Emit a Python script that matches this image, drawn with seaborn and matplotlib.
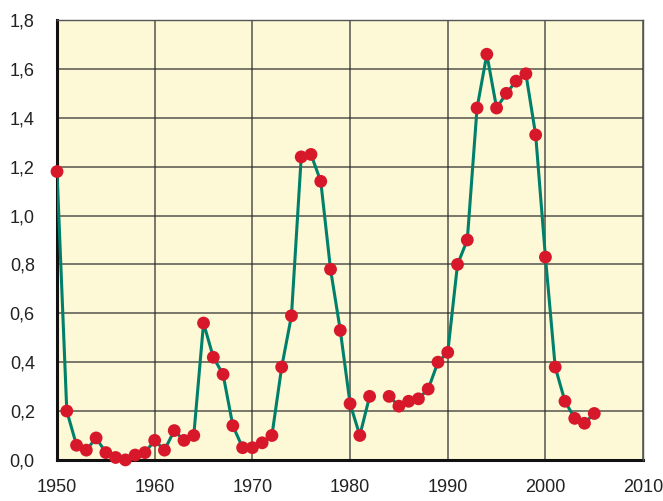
import numpy as np
import pandas as pd
import matplotlib
matplotlib.use("Agg")
import matplotlib.pyplot as plt
import seaborn as sns
from matplotlib.ticker import FuncFormatter

# Données (1983 manquant)
years = list(range(1950, 2006))
values = [1.18, 0.20, 0.06, 0.04, 0.09, 0.03, 0.01, 0.00, 0.02, 0.03,
          0.08, 0.04, 0.12, 0.08, 0.10, 0.56, 0.42, 0.35, 0.14, 0.05,
          0.05, 0.07, 0.10, 0.38, 0.59, 1.24, 1.25, 1.14, 0.78, 0.53,
          0.23, 0.10, 0.26, np.nan, 0.26, 0.22, 0.24, 0.25, 0.29, 0.40,
          0.44, 0.80, 0.90, 1.44, 1.66, 1.44, 1.50, 1.55, 1.58, 1.33,
          0.83, 0.38, 0.24, 0.17, 0.15, 0.19]
x_ticks = [1950, 1960, 1970, 1980, 1990, 2000, 2010]
y_ticks = [0.0, 0.2, 0.4, 0.6, 0.8, 1.0, 1.2, 1.4, 1.6, 1.8]

df = pd.DataFrame({"annee": years, "valeur": values})

sns.set_style("white")
plt.rcParams['font.family'] = ['Liberation Sans', 'DejaVu Sans']

fig = plt.figure(figsize=(6.63, 5.01), dpi=100)
ax = fig.add_axes([0.086, 0.082, 0.884, 0.878])
ax.set_facecolor("#FDF8D6")

# ligne (avec coupure en 1983) puis points
ax.plot(df["annee"], df["valeur"], color="#00806A", lw=2.2, zorder=3)
sns.scatterplot(data=df, x="annee", y="valeur", color="#D7182A", s=85,
                edgecolor="none", zorder=4, ax=ax, clip_on=False)

ax.set_xlim(1950, 2010)
ax.set_ylim(0, 1.8)
ax.set_xticks(x_ticks)
ax.set_yticks(y_ticks)
ax.yaxis.set_major_formatter(FuncFormatter(lambda v, p: f"{v:.1f}".replace(".", ",")))
ax.grid(True, color="#2b2b2b", lw=1.1, alpha=0.8, zorder=1)
ax.set_axisbelow(True)
ax.set_xlabel("")
ax.set_ylabel("")

for side in ["top", "right"]:
    ax.spines[side].set_color("#555555")
    ax.spines[side].set_linewidth(1.0)
for side in ["left", "bottom"]:
    ax.spines[side].set_color("#111111")
    ax.spines[side].set_linewidth(2.2)
    ax.spines[side].set_zorder(2)

ax.tick_params(axis="both", direction="out", length=10, width=1.5,
               color="#111111", labelsize=13, labelcolor="#222222", pad=4)
ax.tick_params(axis="y", pad=6)

fig.savefig("out.png", dpi=100)
